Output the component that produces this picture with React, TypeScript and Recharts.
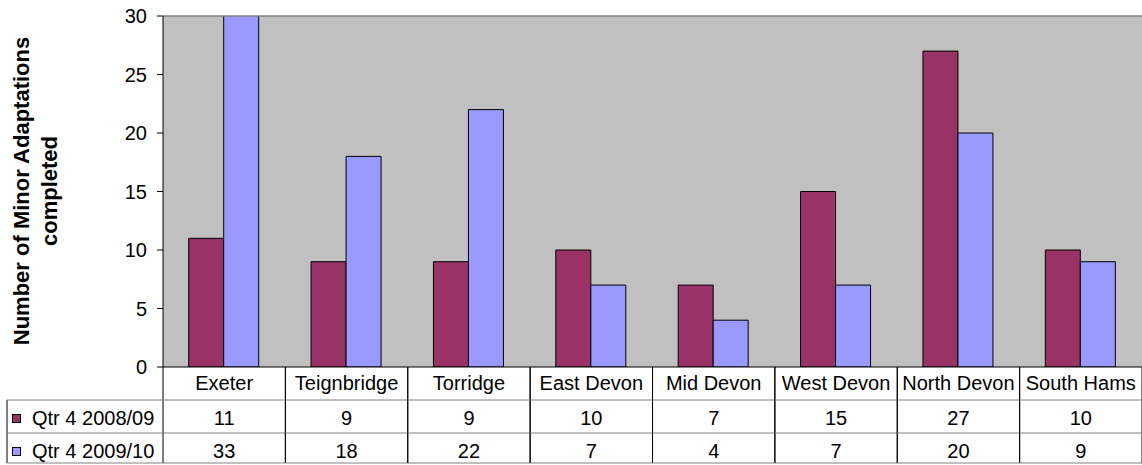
import { Bar, BarChart, CartesianGrid, ReferenceLine, XAxis, YAxis } from 'recharts'

const categories = [
  'Exeter',
  'Teignbridge',
  'Torridge',
  'East Devon',
  'Mid Devon',
  'West Devon',
  'North Devon',
  'South Hams',
]
const qtr4_0809 = [11, 9, 9, 10, 7, 15, 27, 10]
const qtr4_0910 = [33, 18, 22, 7, 4, 7, 20, 9]
const yTicks = [0, 5, 10, 15, 20, 25, 30]

const seriesNames = ['Qtr 4 2008/09', 'Qtr 4 2009/10']
const seriesColors = ['#993366', '#9999FF']

const data = categories.map((name, i) => ({
  name,
  a: qtr4_0809[i],
  b: qtr4_0910[i],
}))

const FONT = '"Liberation Sans", Arial, sans-serif'
const W = 1142
const H = 465
const LEFT = 163
const BAND = (W - LEFT) / categories.length
const ROW = 33
const FS = 20

// one column of the data table under each category
const TableTick = (props: any) => {
  const { x, y, payload, index } = props
  const half = BAND / 2
  const vals = [qtr4_0809[index], qtr4_0910[index]]
  const bottom = y + ROW * 3 - 3
  return (
    <g fontFamily={FONT} fontSize={FS} fill="#000">
      <line x1={x - half} x2={x - half} y1={y} y2={bottom} stroke="#000" />
      <line x1={x + half} x2={x + half} y1={y} y2={bottom} stroke="#000" />
      <line x1={x - half} x2={x + half} y1={y + ROW} y2={y + ROW} stroke="#808080" />
      <line x1={x - half} x2={x + half} y1={y + ROW * 2} y2={y + ROW * 2} stroke="#808080" />
      <line x1={x - half} x2={x + half} y1={bottom} y2={bottom} stroke="#808080" />
      <text x={x} y={y + 23} textAnchor="middle">
        {payload.value}
      </text>
      {vals.map((v, i) => (
        <text key={i} x={x} y={y + ROW * (i + 1) + 25} textAnchor="middle">
          {v}
        </text>
      ))}
      {index === 0 && (
        <g>
          <line x1={7} x2={7} y1={y + ROW} y2={bottom} stroke="#000" />
          <line x1={7} x2={x - half} y1={y + ROW} y2={y + ROW} stroke="#808080" />
          <line x1={7} x2={x - half} y1={y + ROW * 2} y2={y + ROW * 2} stroke="#808080" />
          <line x1={7} x2={x - half} y1={bottom} y2={bottom} stroke="#808080" />
          {seriesNames.map((s, i) => (
            <g key={s}>
              <rect
                x={12.5}
                y={y + ROW * (i + 1) + 14.5}
                width={8}
                height={8}
                fill={seriesColors[i]}
                stroke="#000"
              />
              <text x={32} y={y + ROW * (i + 1) + 25}>
                {s}
              </text>
            </g>
          ))}
        </g>
      )}
    </g>
  )
}

export default function App() {
  return (
    <div style={{ position: 'absolute', left: 0, top: 0, width: W, height: H, background: '#fff' }}>
      <BarChart
        width={W}
        height={H}
        data={data}
        margin={{ top: 16, right: 0, bottom: 0, left: 0 }}
        barGap={0}
        barCategoryGap="21%"
      >
        <CartesianGrid horizontal={false} vertical={false} fill="#C0C0C0" />
        <XAxis
          dataKey="name"
          height={98}
          tickSize={0}
          tickMargin={0}
          axisLine={{ stroke: '#000' }}
          tick={<TableTick />}
          interval={0}
        />
        <YAxis
          width={LEFT}
          domain={[0, 30]}
          ticks={yTicks}
          allowDataOverflow
          tickSize={6}
          tickMargin={10}
          axisLine={{ stroke: '#000' }}
          tickLine={{ stroke: '#000' }}
          tick={{ fill: '#000', fontSize: FS, fontFamily: FONT }}
        />
        <ReferenceLine y={30} stroke="#808080" strokeWidth={1.5} />
        <Bar dataKey="a" name={seriesNames[0]} fill={seriesColors[0]} stroke="#000" isAnimationActive={false} />
        <Bar dataKey="b" name={seriesNames[1]} fill={seriesColors[1]} stroke="#000" isAnimationActive={false} />
      </BarChart>
      <div
        style={{
          position: 'absolute',
          left: 38 - 200,
          top: 191 - 30,
          width: 400,
          height: 60,
          transform: 'rotate(-90deg)',
          textAlign: 'center',
          fontFamily: FONT,
          fontWeight: 'bold',
          fontSize: 22,
          lineHeight: '28px',
          color: '#000',
        }}
      >
        Number of Minor Adaptations
        <br />
        completed
      </div>
    </div>
  )
}
